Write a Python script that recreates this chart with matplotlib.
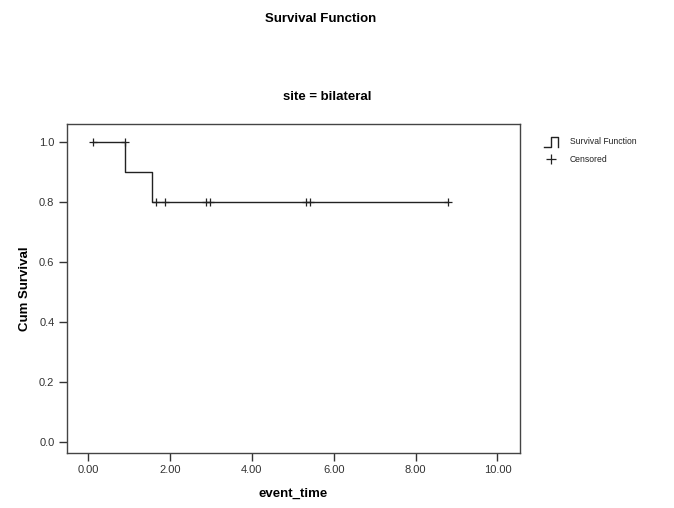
import matplotlib
matplotlib.use("Agg")
import matplotlib.pyplot as plt
from matplotlib.lines import Line2D

plt.rcParams['font.family'] = ['Liberation Sans', 'DejaVu Sans']

# Kaplan-Meier step data
step_times = [0.0, 0.89, 1.56, 8.79]
step_surv = [1.0, 0.9, 0.8, 0.8]
start_time = 0.11
censor_times = [0.11, 0.89, 1.66, 1.88, 2.88, 2.97, 5.33, 5.43, 8.79]
censor_surv = [1.0, 1.0, 0.8, 0.8, 0.8, 0.8, 0.8, 0.8, 0.8]

x_ticks = [0, 2, 4, 6, 8, 10]
x_ticklabels = ["0.00", "2.00", "4.00", "6.00", "8.00", "10.00"]
y_ticks = [0.0, 0.2, 0.4, 0.6, 0.8, 1.0]
y_ticklabels = ["0.0", "0.2", "0.4", "0.6", "0.8", "1.0"]

fig = plt.figure(figsize=(6.74, 5.08), dpi=100)
ax = fig.add_axes([0.0994, 0.1083, 0.672, 0.6476])

xs = [start_time] + step_times[1:]
ys = [step_surv[0]] + step_surv[1:]
ax.step(xs, ys, where='post', color='#222222', lw=1.0)
ax.plot(censor_times, censor_surv, linestyle='none', marker='+', color='#222222',
        markersize=6, markeredgewidth=0.9)

ax.set_xlim(-0.52, 10.55)
ax.set_ylim(-0.037, 1.06)
ax.set_xticks(x_ticks)
ax.set_xticklabels(x_ticklabels)
ax.set_yticks(y_ticks)
ax.set_yticklabels(y_ticklabels)
ax.tick_params(axis='both', direction='out', length=6, width=1.0, color='#333333',
               labelsize=8, labelcolor='#333333', pad=3)
for s in ax.spines.values():
    s.set_color('#444444')
    s.set_linewidth(1.0)

ax.set_xlabel("event_time", fontsize=9.5, fontweight='bold', labelpad=9)
ax.set_ylabel("Cum Survival", fontsize=9.5, fontweight='bold', labelpad=6)

fig.text(0.475, 0.962, "Survival Function", ha='center', va='center',
         fontsize=9.5, fontweight='bold')
fig.text(0.485, 0.81, "site = bilateral", ha='center', va='center',
         fontsize=9.5, fontweight='bold')

# Legend (drawn manually)
fx = lambda px: px / 674
fy = lambda py: 1 - py / 508
fig.add_artist(Line2D([fx(544), fx(551), fx(551), fx(558), fx(558)],
                      [fy(147), fy(147), fy(137), fy(137), fy(147)],
                      color='#222222', lw=1.0))
fig.text(fx(570), fy(142), "Survival Function", ha='left', va='center', fontsize=6.2,
         color='#222222')
fig.add_artist(Line2D([fx(551)], [fy(159)], marker='+', markersize=7,
                      markeredgewidth=0.9, color='#222222', linestyle='none'))
fig.text(fx(570), fy(159), "Censored", ha='left', va='center', fontsize=6.2,
         color='#222222')

fig.savefig("out.png", dpi=100)
